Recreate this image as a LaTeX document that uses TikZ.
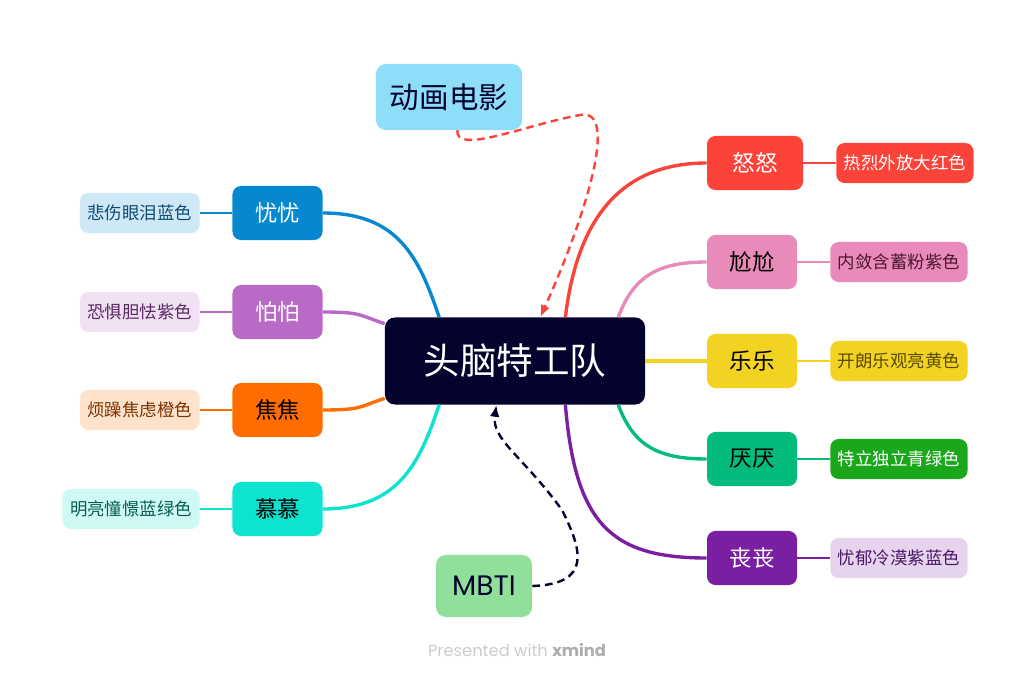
\documentclass[tikz,border=0pt]{standalone}
\usepackage{fontspec}
\setmainfont{Noto Sans CJK SC}
\newfontfamily\popfont{Poppins}
\usetikzlibrary{arrows.meta}
\definecolor{navy}{HTML}{03032E}
\definecolor{ybue}{HTML}{0688D0}
\definecolor{ybueLt}{HTML}{CEE8F6}
\definecolor{ybueTx}{HTML}{104B73}
\definecolor{ppurp}{HTML}{B96AC7}
\definecolor{ppurpLt}{HTML}{F2E1F4}
\definecolor{ppurpTx}{HTML}{5A2A63}
\definecolor{jorng}{HTML}{FF6D00}
\definecolor{jorngLt}{HTML}{FFE2CC}
\definecolor{jorngTx}{HTML}{7A3400}
\definecolor{mteal}{HTML}{0DE4D0}
\definecolor{mtealLt}{HTML}{CEF9F5}
\definecolor{mtealTx}{HTML}{0A5D55}
\definecolor{nred}{HTML}{FC433A}
\definecolor{gpink}{HTML}{E98BBA}
\definecolor{gpinkTx}{HTML}{4D1633}
\definecolor{lyell}{HTML}{F2D321}
\definecolor{lyellTx}{HTML}{5B4A00}
\definecolor{ygrn}{HTML}{03BB7B}
\definecolor{ygrnLf}{HTML}{1BA71C}
\definecolor{sviol}{HTML}{7B1FA2}
\definecolor{sviolLt}{HTML}{E6D4EE}
\definecolor{sviolTx}{HTML}{4A1766}
\definecolor{skyblue}{HTML}{8EDEF9}
\definecolor{mintgrn}{HTML}{90DF9A}
\definecolor{wmark}{HTML}{CCCCCC}

\begin{document}
\begin{tikzpicture}[
    x=0.025cm, y=-0.025cm,
    >={Latex[length=3mm, width=2.4mm]},
    branch/.style={rounded corners=6pt, minimum width=2.25cm, minimum height=1.35cm,
      inner sep=0pt, font=\fontsize{16}{19}\selectfont},
    leaf/.style={rounded corners=6pt, minimum height=1cm, inner xsep=0.19cm,
      inner ysep=0pt, font=\fontsize{12.4}{15}\selectfont},
    mainline/.style={line width=2.4pt},
    leafline/.style={line width=1.6pt},
    relation/.style={line width=1.7pt, dash pattern=on 5.5pt off 3.5pt, ->},
  ]

  % Canvas
  \useasboundingbox (0,0) rectangle (1036,681);

  % === Central topic ===
  \node[fill=navy, text=white, rounded corners=7pt, minimum width=6.5cm,
        minimum height=2.175cm, inner sep=0pt, font=\fontsize{26}{30}\selectfont]
    (zhong) at (515,361) {头脑特工队};

  % === Left branches ===
  \node[branch, fill=ybue, text=white] (yy) at (277.5,213) {忧忧};
  \node[branch, fill=ppurp, text=white] (pp) at (277.5,312) {怕怕};
  \node[branch, fill=jorng, text=black] (jj) at (277.5,410) {焦焦};
  \node[branch, fill=mteal, text=black] (mm) at (277.5,509) {慕慕};

  \node[leaf, fill=ybueLt, text=ybueTx, anchor=east] (yyLeaf) at (200,213) {悲伤眼泪蓝色};
  \node[leaf, fill=ppurpLt, text=ppurpTx, anchor=east] (ppLeaf) at (200,312) {恐惧胆怯紫色};
  \node[leaf, fill=jorngLt, text=jorngTx, anchor=east] (jjLeaf) at (200,410) {烦躁焦虑橙色};
  \node[leaf, fill=mtealLt, text=mtealTx, anchor=east] (mmLeaf) at (200,509) {明亮憧憬蓝绿色};

  % === Right branches ===
  \node[branch, fill=nred, text=white, minimum width=2.4cm] (nn) at (755,163) {怒怒};
  \node[branch, fill=gpink, text=black] (gg) at (752,262) {尬尬};
  \node[branch, fill=lyell, text=black] (ll) at (752,361) {乐乐};
  \node[branch, fill=ygrn, text=black] (yan) at (752,459) {厌厌};
  \node[branch, fill=sviol, text=white] (sang) at (752,558) {丧丧};

  \node[leaf, fill=nred, text=white, anchor=west] (nnLeaf) at (836,163) {热烈外放大红色};
  \node[leaf, fill=gpink, text=gpinkTx, anchor=west] (ggLeaf) at (830,262) {内敛含蓄粉紫色};
  \node[leaf, fill=lyell, text=lyellTx, anchor=west] (llLeaf) at (830,361) {开朗乐观亮黄色};
  \node[leaf, fill=ygrnLf, text=white, anchor=west] (yanLeaf) at (830,459) {特立独立青绿色};
  \node[leaf, fill=sviolLt, text=sviolTx, anchor=west] (sangLeaf) at (830,558) {忧郁冷漠紫蓝色};

  % === Floating topics ===
  \node[fill=skyblue, text=navy, rounded corners=7pt, minimum width=3.65cm,
        minimum height=1.65cm, inner sep=0pt, font=\fontsize{21}{25}\selectfont]
    (dh) at (449,97) {动画电影};
  \node[fill=mintgrn, text=navy, rounded corners=7pt, minimum width=2.4cm,
        minimum height=1.55cm, inner sep=0pt, font=\popfont\fontsize{20}{24}\selectfont]
    (mb) at (484,586) {MBTI};

  % === Main connectors ===
  \draw[mainline, ybue] (yy.east) .. controls +(75,0) and +(-20,-60) .. (zhong.150);
  \draw[mainline, ppurp] (pp.east) .. controls +(40,0) and +(-25,-8) .. (zhong.164);
  \draw[mainline, jorng] (jj.east) .. controls +(40,0) and +(-25,8) .. (zhong.196);
  \draw[mainline, mteal] (mm.east) .. controls +(75,0) and +(-20,60) .. (zhong.210);

  \draw[mainline, nred] (zhong.41) .. controls +(12,-100) and +(-85,0) .. (nn.west);
  \draw[mainline, gpink] (zhong.23.5) .. controls +(15,-40) and +(-50,0) .. (gg.west);
  \draw[mainline, lyell] (zhong.east) -- (ll.west);
  \draw[mainline, ygrn] (zhong.-23.5) .. controls +(15,40) and +(-50,0) .. (yan.west);
  \draw[mainline, sviol] (zhong.-41) .. controls +(10,120) and +(-95,0) .. (sang.west);

  % === Leaf connectors ===
  \draw[leafline, ybue] (yy.west) -- (yyLeaf.east);
  \draw[leafline, ppurp] (pp.west) -- (ppLeaf.east);
  \draw[leafline, jorng] (jj.west) -- (jjLeaf.east);
  \draw[leafline, mteal] (mm.west) -- (mmLeaf.east);
  \draw[leafline, nred] (nn.east) -- (nnLeaf.west);
  \draw[leafline, gpink] (gg.east) -- (ggLeaf.west);
  \draw[leafline, lyell] (ll.east) -- (llLeaf.west);
  \draw[leafline, ygrn] (yan.east) -- (yanLeaf.west);
  \draw[leafline, sviol] (sang.east) -- (sangLeaf.west);

  % === Relationships (dashed) ===
  \draw[relation, nred] (dh.-76) .. controls +(-2,25) and +(-55,10) .. (580,115)
    .. controls +(40,-8) and +(45,-100) .. (zhong.60);
  \draw[relation, navy] (mb.east) .. controls +(60,-2) and +(20,40) .. (562,510)
    .. controls +(-40,-55) and +(-5,35) .. (zhong.247.5);

  % Watermark
  \node[text=wmark, font=\popfont\fontsize{11.6}{14}\selectfont] (wm) at (517,650)
    {Presented with \textcolor{wmark!85!black}{\bfseries xmind}};

\end{tikzpicture}
\end{document}
